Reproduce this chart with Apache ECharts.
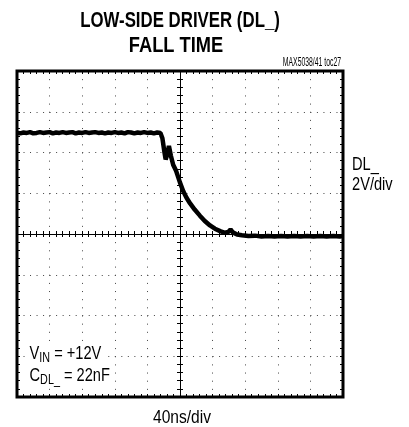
<!DOCTYPE html>
<html>
<head>
<meta charset="utf-8">
<script src="https://cdn.jsdelivr.net/npm/echarts@6/dist/echarts.min.js"></script>
<style>
  html, body { margin: 0; padding: 0; background: #fff; }
  #main { width: 409px; height: 427px; }
</style>
</head>
<body>
<div id="main"></div>
<script>
// time in divisions (40ns/div), level in divisions (2V/div), 0 = centre line
var timeDiv = [
  0, 0.1, 0.2, 0.3, 0.4, 0.5, 0.6, 0.7, 0.8, 0.9,
  1.0, 1.1, 1.2, 1.3, 1.4, 1.5, 1.6, 1.7, 1.8, 1.9,
  2.0, 2.1, 2.2, 2.3, 2.4, 2.5, 2.6, 2.7, 2.8, 2.9,
  3.0, 3.1, 3.2, 3.3, 3.4, 3.5, 3.6, 3.7, 3.8, 3.9,
  4.0, 4.1, 4.2, 4.3, 4.4,
  4.46, 4.52, 4.56, 4.61, 4.66, 4.72, 4.79, 4.88, 5.0, 5.1,
  5.2, 5.31, 5.45, 5.61, 5.76, 5.92, 6.07, 6.23, 6.38, 6.48,
  6.55, 6.62, 6.75, 6.9, 7.1, 7.3, 7.5, 7.7, 7.9, 8.1,
  8.3, 8.5, 8.7, 8.9, 9.1, 9.3, 9.5, 9.7, 9.9, 10
];
var levelDiv = [
  2.48, 2.47, 2.49, 2.48, 2.50, 2.47, 2.48, 2.50, 2.48, 2.49,
  2.50, 2.47, 2.49, 2.48, 2.50, 2.48, 2.49, 2.50, 2.47, 2.49,
  2.48, 2.50, 2.48, 2.49, 2.50, 2.48, 2.49, 2.47, 2.49, 2.48,
  2.50, 2.48, 2.49, 2.47, 2.50, 2.49, 2.47, 2.49, 2.48, 2.50,
  2.48, 2.49, 2.47, 2.49, 2.48,
  2.35, 2.02, 1.83, 1.95, 2.16, 1.92, 1.70, 1.55, 1.26, 1.05,
  0.89, 0.75, 0.60, 0.45, 0.32, 0.21, 0.13, 0.07, 0.03, 0.05,
  0.11, 0.04, -0.01, -0.03, -0.05, -0.04, -0.06, -0.05, -0.06, -0.05,
  -0.06, -0.05, -0.06, -0.05, -0.06, -0.05, -0.06, -0.05, -0.06, -0.05
];

var chart = echarts.init(document.getElementById('main'), null, { renderer: 'canvas' });

var face = "'Liberation Sans', Arial, sans-serif";
var squeeze = 0.77;
var gridRect = { left: 17, top: 71, width: 326, height: 326 };

// frame axes: no labels, short ticks pointing into the plot
function frameAxis(pos, min, max, dots) {
  return {
    type: 'value', gridIndex: 0, position: pos, min: min, max: max, interval: 1,
    axisLine: { show: false, onZero: false },
    axisLabel: { show: false },
    axisTick: { show: true, inside: true, length: 3, lineStyle: { color: '#000', width: 1 } },
    minorTick: { show: true, splitNumber: 5, length: 3, lineStyle: { color: '#000', width: 1 } },
    splitLine: { show: dots, lineStyle: { color: '#444', width: 1, type: (pos === 'bottom' ? [1, 7.15] : [1, 5.52]) } }
  };
}
// centre cross axes
function centreAxis(dim, grid, inside, showLine) {
  return {
    type: 'value', gridIndex: grid,
    min: dim === 'x' ? -5 : -4, max: dim === 'x' ? 5 : 4, interval: 1,
    axisLine: { show: showLine, onZero: true, lineStyle: { color: '#000', width: 1 } },
    axisLabel: { show: false },
    axisTick: { show: true, inside: inside, length: 3, lineStyle: { color: '#000', width: 1 } },
    minorTick: { show: true, splitNumber: 5, length: 3, lineStyle: { color: '#000', width: 1 } },
    splitLine: { show: false }
  };
}

function label(txt, x, y, font, align, sx) {
  return {
    type: 'text', x: x, y: y, scaleX: sx || squeeze, z: 10,
    style: { text: txt, font: font, fill: '#000', align: align || 'left', verticalAlign: 'middle' }
  };
}
function subLabel(main, sub, rest, x, y) {
  return {
    type: 'text', x: x, y: y, scaleX: squeeze, z: 10,
    style: {
      text: '{m|' + main + '}{s|' + sub + '}{m|' + rest + '}',
      fill: '#000', backgroundColor: '#fff', padding: [0, 4, 0, 2], verticalAlign: 'middle',
      rich: {
        m: { font: '19px ' + face, fill: '#000' },
        s: { font: '14px ' + face, fill: '#000', padding: [9, 0, 0, 0] }
      }
    }
  };
}

var option = {
  backgroundColor: '#fff',
  animation: false,
  grid: [
    Object.assign({ show: true, borderColor: '#000', borderWidth: 3, backgroundColor: 'transparent', z: 3 }, gridRect),
    Object.assign({}, gridRect),
    Object.assign({}, gridRect)
  ],
  xAxis: [
    frameAxis('bottom', 0, 10, true),
    frameAxis('top', 0, 10, false),
    centreAxis('x', 1, false, true),
    centreAxis('x', 2, true, false)
  ],
  yAxis: [
    frameAxis('left', -4, 4, true),
    frameAxis('right', -4, 4, false),
    centreAxis('y', 1, false, true),
    centreAxis('y', 2, true, false)
  ],
  graphic: [
    label('LOW-SIDE DRIVER (DL_)', 180, 21, 'bold 22px ' + face, 'center', 0.765),
    label('FALL TIME', 176, 46, 'bold 22px ' + face, 'center', 0.83),
    label('MAX5038/41 toc27', 341, 63, '12px ' + face, 'right', 0.57),
    label('DL_', 352, 165, '19px ' + face),
    label('2V/div', 352, 185, '19px ' + face),
    label('40ns/div', 182, 418, '19px ' + face, 'center', 0.82),
    subLabel('V', 'IN', ' = +12V', 28, 354),
    subLabel('C', 'DL_', ' = 22nF', 28, 376)
  ],
  series: [{
    type: 'line',
    xAxisIndex: 0,
    yAxisIndex: 0,
    showSymbol: false,
    z: 5,
    lineStyle: { color: '#000', width: 4.5 },
    data: timeDiv.map(function (t, i) { return [t, levelDiv[i]]; })
  }]
};

chart.setOption(option);
</script>
</body>
</html>
